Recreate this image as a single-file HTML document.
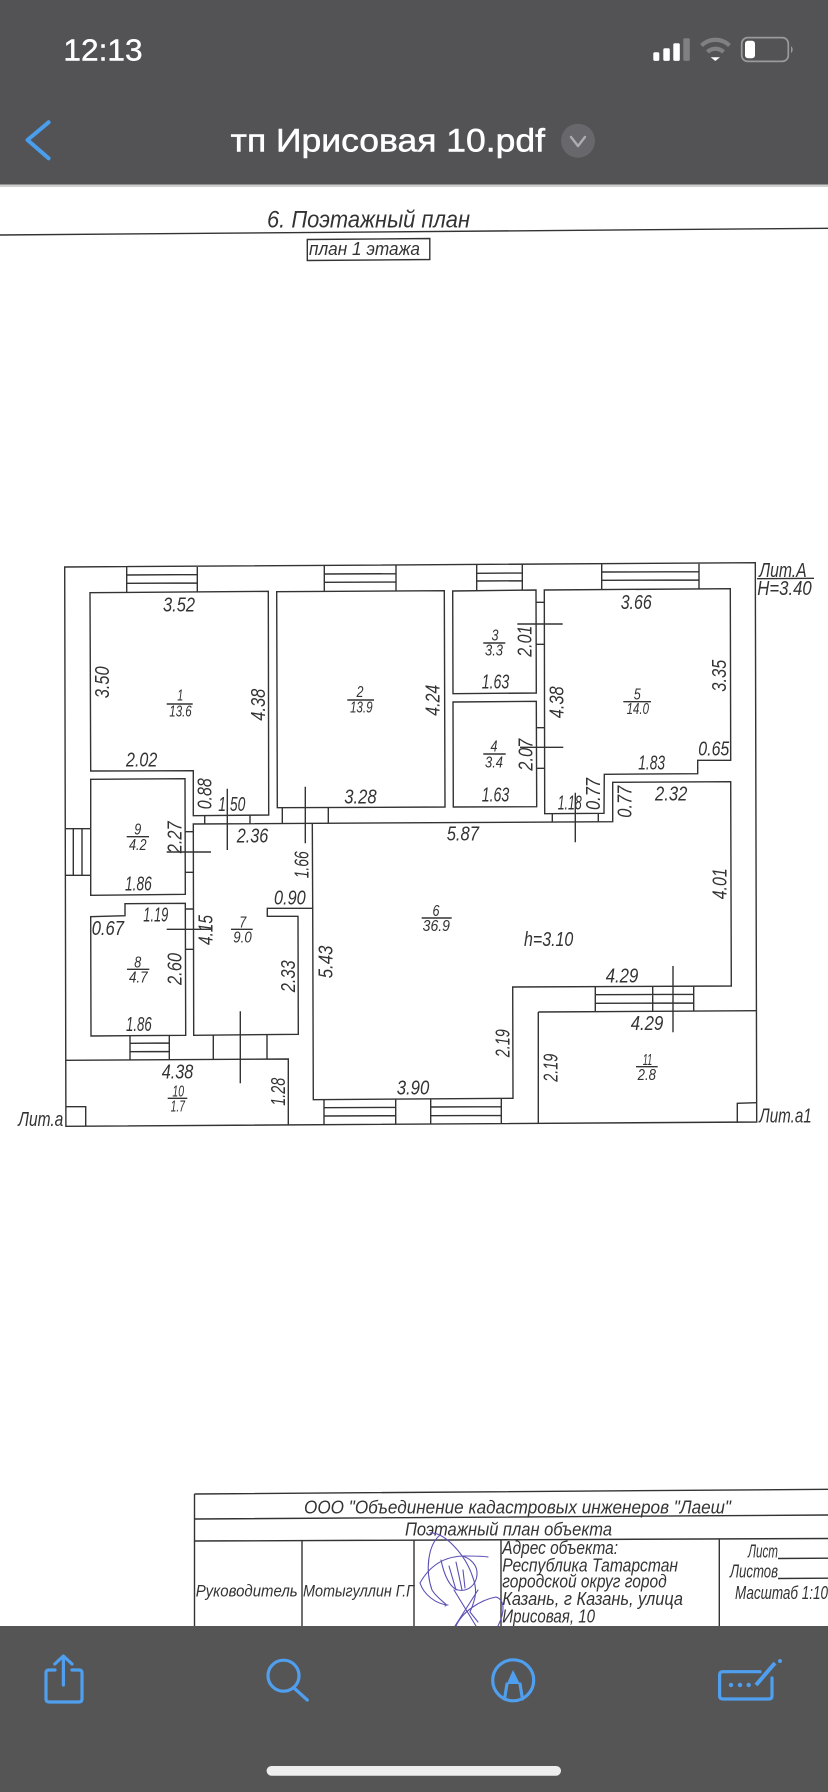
<!DOCTYPE html>
<html><head><meta charset="utf-8"><style>
html,body{margin:0;padding:0;background:#fff}
svg{display:block}
text{font-family:"Liberation Sans","Noto Sans CJK SC",sans-serif}
.d,.s,.t,.n{font-style:italic;fill:#333;font-weight:400;}
.d{font-size:20px}.s{font-size:16px}.t{font-size:18px}.n{font-size:16px;text-anchor:middle}
.p{fill:none;stroke:#333;stroke-width:1.4}
.b{fill:none;stroke:#4f9fee;stroke-width:3.2;stroke-linecap:round;stroke-linejoin:round}
</style></head><body>
<svg width="828" height="1792" viewBox="0 0 828 1792" xmlns="http://www.w3.org/2000/svg">
<rect width="828" height="1792" fill="#fff"/>
<!-- title -->
<path class="p" d="M0 235 L828 228.3" stroke-width="1.5"/>
<text class="d" x="267" y="227.5" textLength="203" lengthAdjust="spacingAndGlyphs" style="font-size:24px">6. Поэтажный план</text>
<path class="p" d="M307.3 239.5L429.8 238.5L429.8 259.5L307.3 260.5Z"/>
<text class="s" x="309" y="255" textLength="111" lengthAdjust="spacingAndGlyphs" style="font-size:18px">план 1 этажа</text>

<!-- plan walls -->
<g class="p">
<path d="M64.7 567L755.3 562.7L756.7 1122L65.9 1126.3Z"/>
<path d="M90 592.7L268.3 591.3L268.7 815L193.3 815.7L193.3 770.7L90.7 771Z"/>
<path d="M276.7 591.7L444.3 590.7L445 807L277.3 807.7Z"/>
<path d="M452.7 591L536 590L536.3 693L453 693.7Z"/>
<path d="M453 702L536.3 701.3L536.7 806.7L453.3 807Z"/>
<path d="M544.3 590L730.3 588.7L730.7 760.3L697.7 760.3L697.7 773.7L604.3 774.3L604 813.3L544.7 813.7Z"/>
<path d="M193.3 824L612.7 821.7L612.7 782.3L730.7 781.7L731.3 986L512.7 987L513 1098.3L313.3 1099.7L312.7 908.3L267.3 908.3L267.3 916.3L298 916.3L298.3 1034.3L193.7 1035.3Z"/>
<path d="M312.3 823.3L312.7 908.3"/>
<path d="M90.7 779.3L185 778.7L185.3 894.3L90.7 895.3Z"/>
<path d="M125 903.7L185.3 903.3L185.7 1035.3L91 1036L90.7 916.7L125 915.7Z"/>
<path d="M65.7 1060.3L288.3 1059L288.3 1125"/>
<path d="M65.7 1106.7L85.7 1106.7L85.7 1126"/>
<path d="M538.3 1012L756 1010.7M538.3 1012L538.3 1123.3"/>
<path d="M737.3 1122.7L737.3 1103.3L756.5 1102.7"/>
<!-- windows -->
<path d="M126.7 567L126.7 592.5M197.3 567L197.3 592M126.7 575L197.3 574.6M126.7 583.3L197.3 583"/>
<path d="M324.3 565.7L324.3 591.3M396 565.3L396 591M324.3 574L396 573.7M324.3 582.3L396 582"/>
<path d="M476.7 564.7L476.7 590.5M522.3 564.5L522.3 590M476.7 573.3L522.3 573M476.7 581L522.3 580.8"/>
<path d="M601.7 564L601.7 589.5M699 563.7L699 589M601.7 572L699 571.7M601.7 580.3L699 580"/>
<path d="M65.7 828.7L90.3 828.7M65.7 875.3L90.7 875.3M73.3 828.7L73.3 875.3M82 828.7L82 875.3"/>
<path d="M130 1036L130 1060M169.3 1035.7L169.3 1059.8M130 1043.3L169.3 1043M130 1051.7L169.3 1051.5"/>
<path d="M213.3 1035.3L213.3 1059.3M267 1034.8L267 1059.2"/>
<path d="M324 1099.7L324 1124.7M395.7 1099.5L395.7 1124.3M324 1107.7L395.7 1107.4M324 1116L395.7 1115.7"/>
<path d="M430.7 1099L430.7 1124M501.3 1098.7L501.3 1123.7M430.7 1107L501.3 1106.7M430.7 1115.7L501.3 1115.4"/>
<path d="M595.3 986.7L595.3 1011.7M693.7 986.3L693.7 1011M652.7 986.5L652.7 1011.3M595.3 994.7L693.7 994.3M595.3 1003.3L693.7 1003"/>
<!-- doors -->
<path d="M204.7 815.7L204.7 824M250 815.4L250 823.7"/>
<path d="M282.3 807.7L282.3 823.7M328.3 807.4L328.3 823.3"/>
<path d="M552.3 813.7L552.3 822M598.3 813.4L598.3 821.8"/>
<path d="M536.3 602.3L544.3 602.3M536.3 644.3L544.3 644.3M536.7 727.7L544.5 727.7M536.7 768.3L544.5 768.3"/>
<path d="M185 831.7L193.3 831.7M185.3 872.3L193.5 872.3M185.5 909L193.5 909M185.5 949.3L193.5 949.3"/>
<!-- section ticks -->
<path d="M227.3 788.7L227.3 850M305.3 786.7L305.3 843.3M166.7 852L211 852"/>
<path d="M517.3 624L562.7 624M520 747.3L563.3 747.3M575.3 792.7L575.3 842.3"/>
<path d="M166.7 929.3L211 929.3M240.3 1011.3L240.3 1083.3M673 966L673 1032.3"/>
<!-- fraction bars -->
<path d="M166.7 704L192.7 704M347.3 700L374 700M126.7 836.7L149 836.7M483.3 643L505.3 643M483.3 754L505.7 754M623.3 701.7L651 701.7M127 969.3L149.3 969.3M231 929.3L252.7 929.3M167.7 1098.3L187.3 1098.3M421.7 918L451.7 918M636 1066.7L657.7 1066.7M757 578.7L814 578.3"/>
</g>

<!-- horizontal dimension labels -->
<g class="d">
<text x="163" y="611.7" textLength="32" lengthAdjust="spacingAndGlyphs">3.52</text>
<text x="126" y="766.7" textLength="31.3" lengthAdjust="spacingAndGlyphs">2.02</text>
<text x="218.3" y="811" textLength="27" lengthAdjust="spacingAndGlyphs">1.50</text>
<text x="236.7" y="842.3" textLength="31.6" lengthAdjust="spacingAndGlyphs">2.36</text>
<text x="344.3" y="803.3" textLength="32.4" lengthAdjust="spacingAndGlyphs">3.28</text>
<text x="620.7" y="609" textLength="31" lengthAdjust="spacingAndGlyphs">3.66</text>
<text x="481.7" y="688.3" textLength="27.6" lengthAdjust="spacingAndGlyphs">1.63</text>
<text x="481.7" y="801.7" textLength="27.6" lengthAdjust="spacingAndGlyphs">1.63</text>
<text x="638.3" y="769.3" textLength="26.7" lengthAdjust="spacingAndGlyphs">1.83</text>
<text x="698.3" y="755.7" textLength="31" lengthAdjust="spacingAndGlyphs">0.65</text>
<text x="655" y="800.7" textLength="32.3" lengthAdjust="spacingAndGlyphs">2.32</text>
<text x="557.7" y="809.3" textLength="24" lengthAdjust="spacingAndGlyphs">1.18</text>
<text x="446.7" y="840.7" textLength="32.3" lengthAdjust="spacingAndGlyphs">5.87</text>
<text x="125" y="890.7" textLength="26.7" lengthAdjust="spacingAndGlyphs">1.86</text>
<text x="143.3" y="921.7" textLength="25" lengthAdjust="spacingAndGlyphs">1.19</text>
<text x="91.7" y="935" textLength="32.3" lengthAdjust="spacingAndGlyphs">0.67</text>
<text x="274" y="904.3" textLength="31.7" lengthAdjust="spacingAndGlyphs">0.90</text>
<text x="126" y="1031" textLength="25.7" lengthAdjust="spacingAndGlyphs">1.86</text>
<text x="161.7" y="1078.3" textLength="31.6" lengthAdjust="spacingAndGlyphs">4.38</text>
<text x="396.7" y="1094.3" textLength="32.6" lengthAdjust="spacingAndGlyphs">3.90</text>
<text x="524" y="946" textLength="49.3" lengthAdjust="spacingAndGlyphs">h=3.10</text>
<text x="605.7" y="982.3" textLength="32.6" lengthAdjust="spacingAndGlyphs">4.29</text>
<text x="630.7" y="1030" textLength="32.6" lengthAdjust="spacingAndGlyphs">4.29</text>
<text x="759.3" y="577" textLength="47.4" lengthAdjust="spacingAndGlyphs">Лит.А</text>
<text x="757.3" y="595" textLength="54.4" lengthAdjust="spacingAndGlyphs">H=3.40</text>
<text x="18.3" y="1126" textLength="45" lengthAdjust="spacingAndGlyphs">Лит.а</text>
<text x="759.3" y="1122.3" textLength="52.4" lengthAdjust="spacingAndGlyphs">Лит.а1</text>
</g>
<!-- rotated dimension labels -->
<g class="d">
<text transform="translate(109,698.3) rotate(-90)" textLength="32" lengthAdjust="spacingAndGlyphs">3.50</text>
<text transform="translate(265,720.7) rotate(-90)" textLength="32" lengthAdjust="spacingAndGlyphs">4.38</text>
<text transform="translate(211.7,809.3) rotate(-90)" textLength="31" lengthAdjust="spacingAndGlyphs">0.88</text>
<text transform="translate(439.3,715.7) rotate(-90)" textLength="31" lengthAdjust="spacingAndGlyphs">4.24</text>
<text transform="translate(181.7,853.3) rotate(-90)" textLength="32" lengthAdjust="spacingAndGlyphs">2.27</text>
<text transform="translate(308.3,878.3) rotate(-90)" textLength="27" lengthAdjust="spacingAndGlyphs">1.66</text>
<text transform="translate(531.7,656.7) rotate(-90)" textLength="31" lengthAdjust="spacingAndGlyphs">2.01</text>
<text transform="translate(532.3,770.7) rotate(-90)" textLength="32" lengthAdjust="spacingAndGlyphs">2.07</text>
<text transform="translate(563.3,718.3) rotate(-90)" textLength="32" lengthAdjust="spacingAndGlyphs">4.38</text>
<text transform="translate(726,691.7) rotate(-90)" textLength="32" lengthAdjust="spacingAndGlyphs">3.35</text>
<text transform="translate(600,810) rotate(-90)" textLength="32" lengthAdjust="spacingAndGlyphs">0.77</text>
<text transform="translate(631.7,817.7) rotate(-90)" textLength="32" lengthAdjust="spacingAndGlyphs">0.77</text>
<text transform="translate(726.7,899.3) rotate(-90)" textLength="31" lengthAdjust="spacingAndGlyphs">4.01</text>
<text transform="translate(212.3,945) rotate(-90)" textLength="30" lengthAdjust="spacingAndGlyphs">4.15</text>
<text transform="translate(181.7,985) rotate(-90)" textLength="32" lengthAdjust="spacingAndGlyphs">2.60</text>
<text transform="translate(295,992.3) rotate(-90)" textLength="32" lengthAdjust="spacingAndGlyphs">2.33</text>
<text transform="translate(332.7,978.3) rotate(-90)" textLength="32.7" lengthAdjust="spacingAndGlyphs">5.43</text>
<text transform="translate(285,1105.7) rotate(-90)" textLength="28" lengthAdjust="spacingAndGlyphs">1.28</text>
<text transform="translate(509.3,1057.3) rotate(-90)" textLength="28" lengthAdjust="spacingAndGlyphs">2.19</text>
<text transform="translate(557.3,1081.7) rotate(-90)" textLength="28" lengthAdjust="spacingAndGlyphs">2.19</text>
</g>
<!-- room numbers -->
<g class="n">
<text x="180.3" y="700.7" textLength="6" lengthAdjust="spacingAndGlyphs">1</text>
<text x="180.5" y="716.7" textLength="22.4" lengthAdjust="spacingAndGlyphs">13.6</text>
<text x="360" y="697" textLength="7" lengthAdjust="spacingAndGlyphs">2</text>
<text x="361.3" y="712.3" textLength="22.7" lengthAdjust="spacingAndGlyphs">13.9</text>
<text x="495" y="640.7" textLength="7" lengthAdjust="spacingAndGlyphs">3</text>
<text x="494" y="655.7" textLength="18" lengthAdjust="spacingAndGlyphs">3.3</text>
<text x="494" y="751.7" textLength="7" lengthAdjust="spacingAndGlyphs">4</text>
<text x="494" y="767.3" textLength="18" lengthAdjust="spacingAndGlyphs">3.4</text>
<text x="637.3" y="699.3" textLength="7" lengthAdjust="spacingAndGlyphs">5</text>
<text x="637.8" y="714" textLength="22.3" lengthAdjust="spacingAndGlyphs">14.0</text>
<text x="436" y="916" textLength="7" lengthAdjust="spacingAndGlyphs">6</text>
<text x="436.3" y="931" textLength="27.3" lengthAdjust="spacingAndGlyphs">36.9</text>
<text x="242.7" y="927.3" textLength="7" lengthAdjust="spacingAndGlyphs">7</text>
<text x="242.5" y="942.7" textLength="18.4" lengthAdjust="spacingAndGlyphs">9.0</text>
<text x="137.7" y="967.3" textLength="7" lengthAdjust="spacingAndGlyphs">8</text>
<text x="138.3" y="982.7" textLength="18.7" lengthAdjust="spacingAndGlyphs">4.7</text>
<text x="137.7" y="834.3" textLength="7" lengthAdjust="spacingAndGlyphs">9</text>
<text x="137.8" y="850" textLength="17.7" lengthAdjust="spacingAndGlyphs">4.2</text>
<text x="178.2" y="1096.3" textLength="11.7" lengthAdjust="spacingAndGlyphs">10</text>
<text x="177.8" y="1111.7" textLength="14.3" lengthAdjust="spacingAndGlyphs">1.7</text>
<text x="647.5" y="1065" textLength="9.6" lengthAdjust="spacingAndGlyphs">11</text>
<text x="646.8" y="1080" textLength="18.3" lengthAdjust="spacingAndGlyphs">2.8</text>
</g>

<!-- title block -->
<g class="p">
<path d="M194.5 1494L828 1489.3M194.5 1519L828 1515M194.5 1541L828 1538.5"/>
<path d="M194.5 1494L194.5 1626M302 1541L302 1626M414 1540.5L414 1626M501 1540L501 1626M719.3 1539L719.3 1626"/>
<path d="M778 1558.5L828 1558.2M778 1578.5L828 1578.2"/>
</g>
<g class="t">
<text x="304" y="1513.3" textLength="427" lengthAdjust="spacingAndGlyphs">ООО "Объединение кадастровых инженеров "Лаеш"</text>
<text x="405" y="1535.7" textLength="207" lengthAdjust="spacingAndGlyphs">Поэтажный план объекта</text>
<text x="195.7" y="1596.7" textLength="102" lengthAdjust="spacingAndGlyphs" style="font-size:17px">Руководитель</text>
<text x="303" y="1596.7" textLength="111" lengthAdjust="spacingAndGlyphs" style="font-size:17px">Мотыгуллин Г.Г</text>
<text x="502.3" y="1554" textLength="115.7" lengthAdjust="spacingAndGlyphs" style="font-size:18px">Адрес объекта:</text>
<text x="502.3" y="1571.7" textLength="175.7" lengthAdjust="spacingAndGlyphs" style="font-size:18px">Республика Татарстан</text>
<text x="502.3" y="1587.3" textLength="164.4" lengthAdjust="spacingAndGlyphs" style="font-size:18px">городской округ город</text>
<text x="502.3" y="1605" textLength="180.7" lengthAdjust="spacingAndGlyphs" style="font-size:18px">Казань, г Казань, улица</text>
<text x="502.3" y="1622.3" textLength="92.7" lengthAdjust="spacingAndGlyphs" style="font-size:18px">Ирисовая, 10</text>
<text x="748" y="1557.3" textLength="30" lengthAdjust="spacingAndGlyphs" style="font-size:18px">Лист</text>
<text x="730" y="1577.3" textLength="48" lengthAdjust="spacingAndGlyphs" style="font-size:18px">Листов</text>
<text x="735" y="1599" textLength="93" lengthAdjust="spacingAndGlyphs" style="font-size:18px">Масштаб 1:10</text>
</g>
<!-- signature -->
<g fill="none" stroke="#5a50b4" stroke-width="1.1" stroke-linecap="round">
<path d="M440 1535C428 1545 425 1570 432 1590C438 1600 450 1605 445 1606"/>
<path d="M430 1533C445 1532 465 1555 472 1575C478 1590 476 1598 470 1612L478 1622"/>
<path d="M420 1583C430 1565 445 1556 465 1556C475 1556 482 1556 488 1557"/>
<path d="M420 1583C424 1595 436 1604 448 1605"/>
<path d="M441 1560C444 1575 450 1588 458 1590C468 1592 476 1585 477 1575C478 1565 470 1558 462 1556"/>
<path d="M449 1566L456 1590M456 1562L462 1590M463 1570L465 1588"/>
<path d="M454 1590L476 1626M478 1590L455 1626"/>
<path d="M456 1626C462 1612 480 1600 496 1597C505 1600 505 1612 498 1626"/>
</g>

<!-- top bar -->
<rect x="0" y="0" width="828" height="184.5" fill="#535356"/>
<rect x="0" y="184.5" width="828" height="2.5" fill="#cfcfcf"/>
<text x="63.4" y="60.7" textLength="79.2" lengthAdjust="spacingAndGlyphs" style="font-size:31px;fill:#fff;font-weight:400;stroke:#fff;stroke-width:.4">12:13</text>
<path d="M48.6 122.3L27.5 140L48.6 158.3" fill="none" stroke="#4a9eee" stroke-width="4" stroke-linecap="round" stroke-linejoin="round"/>
<text x="230.7" y="151.7" textLength="314.3" lengthAdjust="spacingAndGlyphs" style="font-size:32px;fill:#fff;stroke:#fff;stroke-width:.5">тп Ирисовая 10.pdf</text>
<circle cx="578" cy="140.7" r="17" fill="#68686c"/>
<path d="M571 137L578 146L585 137" fill="none" stroke="#adadb0" stroke-width="2.4" stroke-linecap="round" stroke-linejoin="round"/>
<!-- status -->
<rect x="653.3" y="52.3" width="6" height="8.6" rx="1.5" fill="#fff"/>
<rect x="663.3" y="48.3" width="6.5" height="12.6" rx="1.5" fill="#fff"/>
<rect x="673.3" y="43.3" width="6.5" height="17.6" rx="1.5" fill="#fff"/>
<rect x="683.3" y="38.3" width="6.5" height="22.6" rx="1.5" fill="#808082"/>
<path d="M701.5 45.5A20 20 0 0 1 729.5 45.5M707.5 52A11.5 11.5 0 0 1 723.5 52" fill="none" stroke="#808082" stroke-width="4.2"/>
<path d="M710.7 57.3L720 57.3L715.3 61Z" fill="#fff"/>
<rect x="741.7" y="37.6" width="46.6" height="23.8" rx="6" fill="none" stroke="#9a9a9c" stroke-width="1.7"/>
<rect x="745" y="40.7" width="10" height="17.6" rx="3" fill="#fff"/>
<path d="M791 46Q794.5 49.7 791 53.3Z" fill="#9a9a9c"/>

<!-- bottom bar -->
<rect x="0" y="1626" width="828" height="166" fill="#555556"/>
<path class="b" d="M55 1670L49 1670Q46 1670 46 1673L46 1699Q46 1702 49 1702L79 1702Q82 1702 82 1699L82 1673Q82 1670 79 1670L72 1670"/>
<path class="b" stroke-width="2.6" d="M63.4 1685L63.4 1656.5M54.8 1664L63.4 1656L72 1664"/>
<circle cx="283.5" cy="1675.7" r="15.5" class="b"/>
<path class="b" d="M294 1688L307.3 1700"/>
<circle cx="513.2" cy="1680.3" r="20.5" class="b"/>
<path d="M513 1670L506.8 1684L520 1684Z" fill="#4f9fee"/>
<path class="b" stroke-width="2" d="M507 1684L504.5 1699M520 1684L522.5 1699"/>
<path class="b" d="M760 1671.7L723 1671.7Q719.6 1671.7 719.6 1675L719.6 1696Q719.6 1699 723 1699L769 1699Q772 1699 772 1696L772 1678"/>
<circle cx="731" cy="1685" r="2.2" fill="#4f9fee"/>
<circle cx="740" cy="1685" r="2.2" fill="#4f9fee"/>
<circle cx="748.7" cy="1685" r="2.2" fill="#4f9fee"/>
<path d="M756 1685L775 1663" fill="none" stroke="#4f9fee" stroke-width="4"/>
<circle cx="780" cy="1661" r="2" fill="#4f9fee"/>
<rect x="266.6" y="1766" width="294.4" height="9.7" rx="4.8" fill="#eeeeee"/>
</svg>
</body></html>
